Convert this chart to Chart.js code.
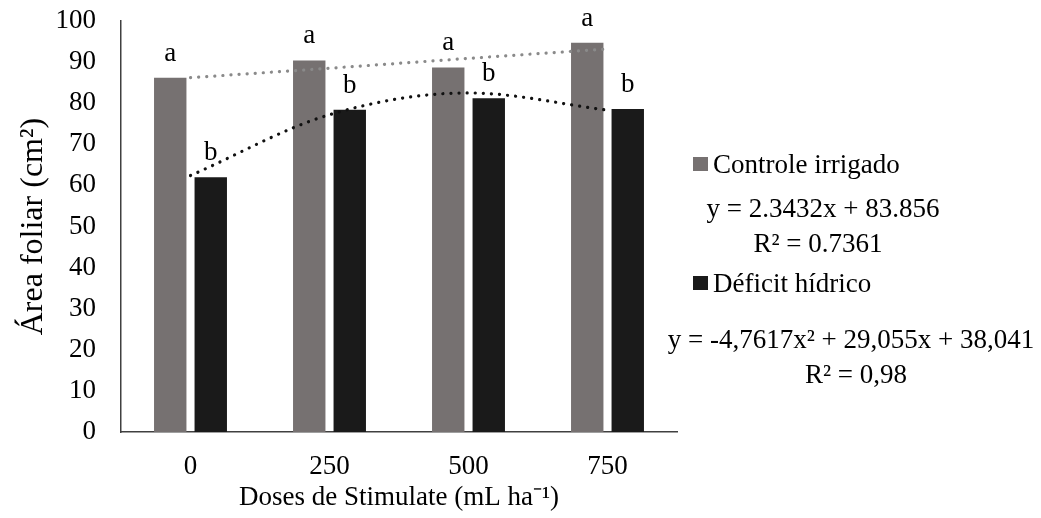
<!DOCTYPE html>
<html>
<head>
<meta charset="utf-8">
<script src="https://cdn.jsdelivr.net/npm/chart.js@4.4.1/dist/chart.umd.min.js"></script>
<style>
  body { margin: 0; background: #fff; }
  #wrap { width: 1041px; height: 518px; }
</style>
</head>
<body>
<div id="wrap"><canvas id="grafico"></canvas></div>
<script>
// datos
var doses = ['0', '250', '500', '750'];
var controleIrrigado = [86.2, 90.4, 88.7, 94.7];
var deficitHidrico = [62.0, 78.4, 81.2, 78.6];
var tendControle = [86.2, 88.5, 90.9, 93.2];
var tendDeficit = [62.4, 77.2, 82.5, 78.3];
var letrasControle = ['a', 'a', 'a', 'a'];
var letrasDeficit = ['b', 'b', 'b', 'b'];
var yTicks = [0, 10, 20, 30, 40, 50, 60, 70, 80, 90, 100];
var eqControle = ['y = 2.3432x + 83.856', 'R² = 0.7361'];
var eqDeficit = ['y = -4,7617x² + 29,055x + 38,041', 'R² = 0,98'];

var serif = '"Liberation Serif", "Times New Roman", serif';
var fonte = '27px ' + serif;
var cinza = '#767171';
var preto = '#1a1a1a';

function texto(ctx, t, x, y, align) {
    ctx.font = fonte;
    ctx.textAlign = align;
    ctx.fillStyle = '#000';
    ctx.fillText(t, x, y);
}

// letras sobre las barras + leyenda con ecuaciones
var textosPlugin = {
    id: 'textos',
    afterDatasetsDraw: function(chart) {
        var ctx = chart.ctx;
        ctx.save();
        ctx.textBaseline = 'alphabetic';
        [[0, letrasControle], [1, letrasDeficit]].forEach(function(par) {
            var meta = chart.getDatasetMeta(par[0]);
            meta.data.forEach(function(bar, i) {
                texto(ctx, par[1][i], bar.x, bar.y - 17, 'center');
            });
        });

        // leyenda
        var ds = chart.data.datasets;
        ctx.fillStyle = ds[0].backgroundColor;
        ctx.fillRect(693, 157, 15, 14);
        texto(ctx, ds[0].label, 713, 173, 'left');
        texto(ctx, eqControle[0], 823, 217, 'center');
        texto(ctx, eqControle[1], 818, 252, 'center');

        ctx.fillStyle = ds[1].backgroundColor;
        ctx.fillRect(693, 276, 15, 14);
        texto(ctx, ds[1].label, 713, 292, 'left');
        texto(ctx, eqDeficit[0], 851, 348, 'center');
        texto(ctx, eqDeficit[1], 856, 383, 'center');
        ctx.restore();
    }
};

var ctx = document.getElementById('grafico').getContext('2d');
var grafico = new Chart(ctx, {
    type: 'bar',
    data: {
        labels: doses,
        datasets: [{
            label: 'Controle irrigado',
            data: controleIrrigado,
            backgroundColor: cinza,
            categoryPercentage: 0.583,
            barPercentage: 0.8,
            order: 2
        }, {
            label: 'Déficit hídrico',
            data: deficitHidrico,
            backgroundColor: preto,
            categoryPercentage: 0.583,
            barPercentage: 0.8,
            order: 2
        }, {
            type: 'line',
            label: 'Linear (Controle irrigado)',
            data: tendControle,
            borderColor: '#8a8a8a',
            borderWidth: 3.2,
            borderDash: [0.1, 8],
            borderCapStyle: 'round',
            pointRadius: 0,
            fill: false,
            order: 1
        }, {
            type: 'line',
            label: 'Polinômio (Déficit hídrico)',
            data: tendDeficit,
            borderColor: '#111',
            borderWidth: 3.2,
            borderDash: [0.1, 8],
            borderCapStyle: 'round',
            pointRadius: 0,
            cubicInterpolationMode: 'monotone',
            fill: false,
            order: 1
        }]
    },
    options: {
        responsive: true,
        maintainAspectRatio: false,
        animation: false,
        layout: { padding: { top: 21, right: 364, left: 0, bottom: 0 } },
        plugins: {
            legend: { display: false },
            tooltip: { enabled: false }
        },
        scales: {
            x: {
                grid: { display: false, drawTicks: false },
                border: { display: true, color: '#404040', width: 1.5 },
                ticks: { color: '#000', font: { family: serif, size: 27 }, padding: 19 },
                title: {
                    display: true,
                    text: 'Doses de Stimulate (mL ha⁻¹)',
                    color: '#000',
                    font: { family: serif, size: 27 },
                    padding: { top: 0, bottom: 4 }
                },
                afterFit: function(scale) { scale.height = 86; }
            },
            y: {
                min: 0,
                max: 100,
                afterBuildTicks: function(scale) {
                    scale.ticks = yTicks.map(function(v) { return { value: v }; });
                },
                grid: { display: false, drawTicks: false },
                border: { display: true, color: '#404040', width: 1.5 },
                ticks: { color: '#000', font: { family: serif, size: 27 }, padding: 25 },
                title: {
                    display: true,
                    text: 'Área foliar (cm²)',
                    color: '#000',
                    font: { family: serif, size: 32 },
                    padding: { top: 14, bottom: 0 }
                },
                afterFit: function(scale) {
                    scale.width = 121;
                    scale.paddingTop = 0;
                    scale.paddingBottom = 0;
                }
            }
        }
    },
    plugins: [textosPlugin]
});
</script>
</body>
</html>
